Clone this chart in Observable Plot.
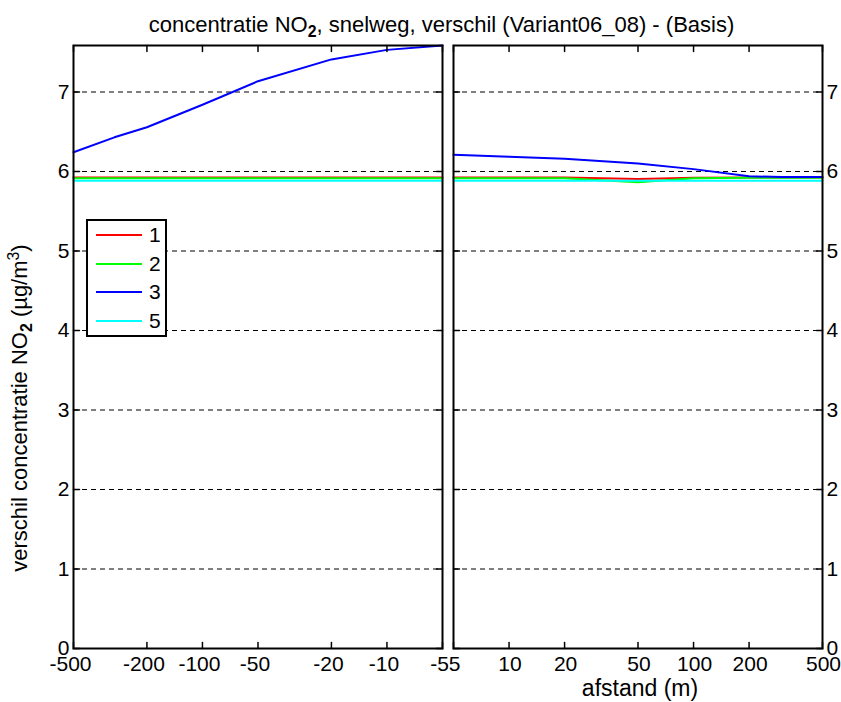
<!DOCTYPE html>
<html>
<head>
<meta charset="utf-8">
<script src="https://cdn.jsdelivr.net/npm/d3@7"></script>
<script src="https://cdn.jsdelivr.net/npm/@observablehq/plot@0.6"></script>
<style>
  html, body { margin: 0; padding: 0; background: #fff; }
  #chart { position: relative; width: 841px; height: 702px; font-family: "Liberation Sans", Arial, sans-serif; color: #000; }
  #chart svg { position: absolute; top: 0; }
  .title { position: absolute; left: 0; width: 883px; top: 12px; text-align: center; font-size: 22px; white-space: nowrap; }
  .ylab { position: absolute; left: 20px; top: 408px; transform: translate(-50%, -50%) rotate(-90deg); font-size: 22px; white-space: nowrap; }
  .xlab { position: absolute; left: 640px; top: 675px; transform: translateX(-50%); font-size: 23px; white-space: nowrap; }
  sub, sup { font-size: 0.72em; line-height: 0; }
  sub b { font-weight: bold; }
  .legend { position: absolute; left: 86px; top: 219px; width: 81px; height: 118px; box-sizing: border-box; border: 2px solid #000; background: #fff; }
  .legend .row { position: absolute; left: 8px; height: 24px; display: flex; align-items: center; font-size: 21px; }
  .legend .sw { width: 46px; height: 2px; margin-right: 7px; }
</style>
</head>
<body>
<div id="chart"></div>
<script>
// ---- data ----
const seriesNames = ["1", "2", "3", "5"];
const seriesColors = ["#ff0000", "#00ff00", "#0000ff", "#00ffff"];

const distLeft = [-500, -300, -200, -100, -50, -20, -10, -5];
const leftS1 = [5.925, 5.925, 5.925, 5.925, 5.925, 5.925, 5.925, 5.925];
const leftS2 = [5.915, 5.915, 5.915, 5.915, 5.915, 5.915, 5.915, 5.915];
const leftS3 = [6.243, 6.43, 6.557, 6.84, 7.136, 7.41, 7.53, 7.585];
const leftS5 = [5.885, 5.885, 5.885, 5.885, 5.885, 5.885, 5.885, 5.885];

const distRight = [5, 10, 20, 50, 100, 200, 300, 500];
const rightS1 = [5.925, 5.925, 5.925, 5.905, 5.92, 5.925, 5.925, 5.925];
const rightS2 = [5.915, 5.915, 5.915, 5.865, 5.915, 5.92, 5.92, 5.92];
const rightS3 = [6.21, 6.185, 6.16, 6.10, 6.03, 5.94, 5.93, 5.93];
const rightS5 = [5.885, 5.885, 5.885, 5.885, 5.885, 5.885, 5.885, 5.885];

const xTicksLeft = [-500, -200, -100, -50, -20, -10, -5];
const xTicksRight = [5, 10, 20, 50, 100, 200, 500];
const yTicks = [0, 1, 2, 3, 4, 5, 6, 7];
const gridTicks = [1, 2, 3, 4, 5, 6, 7];
const yMax = 7.585;

const titleText = 'concentratie NO<sub><b>2</b></sub>, snelweg, verschil (Variant06_08) - (Basis)';
const yLabelText = 'verschil concentratie NO<sub><b>2</b></sub> (&micro;g/m<sup>3</sup>)';
const xLabelText = 'afstand (m)';

// ---- build tables ----
function toRows(dist, arrays) {
  const rows = [];
  arrays.forEach((arr, k) => arr.forEach((v, i) => rows.push({d: dist[i], v, s: seriesNames[k]})));
  return rows;
}
const leftRows = toRows(distLeft, [leftS1, leftS2, leftS3, leftS5]);
const rightRows = toRows(distRight, [rightS1, rightS2, rightS3, rightS5]);

const tickShape = { draw(context, l) { context.moveTo(0, 0); context.lineTo(0, -l); } };

function panel(rows, domain, xticks, side, width, ml, mr, labelDx) {
  const tickOpts = {shape: tickShape, length: 6, anchor: "start", stroke: "black", strokeWidth: 1.5};
  return Plot.plot({
    width, height: 702,
    marginLeft: ml, marginRight: mr, marginTop: 45, marginBottom: 54,
    style: {fontFamily: '"Liberation Sans", Arial, sans-serif', fontSize: "21px", background: "transparent", overflow: "visible"},
    x: {type: "log", domain, axis: null},
    y: {domain: [0, yMax]},
    color: {domain: seriesNames, range: seriesColors},
    marks: [
      Plot.gridY(gridTicks, {stroke: "black", strokeOpacity: 1, strokeWidth: 1, strokeDasharray: "5,4"}),
      Plot.line(rows, {x: "d", y: "v", z: "s", stroke: "s", strokeWidth: 2}),
      Plot.vector(xticks, {x: d => d, frameAnchor: "bottom", rotate: 0, ...tickOpts}),
      Plot.vector(xticks, {x: d => d, frameAnchor: "top", rotate: 180, ...tickOpts}),
      Plot.vector(yTicks, {y: d => d, frameAnchor: "left", rotate: 90, ...tickOpts}),
      Plot.vector(yTicks, {y: d => d, frameAnchor: "right", rotate: 270, ...tickOpts}),
      Plot.frame({stroke: "black", strokeWidth: 2}),
      Plot.text(xticks, {x: d => d, frameAnchor: "bottom", lineAnchor: "top", dy: 8, dx: labelDx, text: d => String(d), fontSize: 21}),
      Plot.axisY(yTicks, {anchor: side, tickSize: 0, tickPadding: 4, tickFormat: d => String(d), label: null, fontSize: 21})
    ]
  });
}

const chart = document.getElementById("chart");
const left = panel(leftRows, [-500, -5], xTicksLeft, "left", 447, 73, 5, -3);
left.style.left = "0px";
const right = panel(rightRows, [5, 500], xTicksRight, "right", 394, 6, 19, 1);
right.style.left = "447px";
chart.appendChild(left);
chart.appendChild(right);

function addDiv(cls, html) {
  const el = document.createElement("div");
  el.className = cls;
  el.innerHTML = html;
  chart.appendChild(el);
  return el;
}
addDiv("title", titleText);
addDiv("ylab", yLabelText);
addDiv("xlab", xLabelText);

const legend = addDiv("legend", "");
seriesNames.forEach((name, i) => {
  const row = document.createElement("div");
  row.className = "row";
  row.style.top = (2 + i * 28.7) + "px";
  const sw = document.createElement("div");
  sw.className = "sw";
  sw.style.background = seriesColors[i];
  const lab = document.createElement("span");
  lab.textContent = name;
  row.appendChild(sw);
  row.appendChild(lab);
  legend.appendChild(row);
});
</script>
</body>
</html>
